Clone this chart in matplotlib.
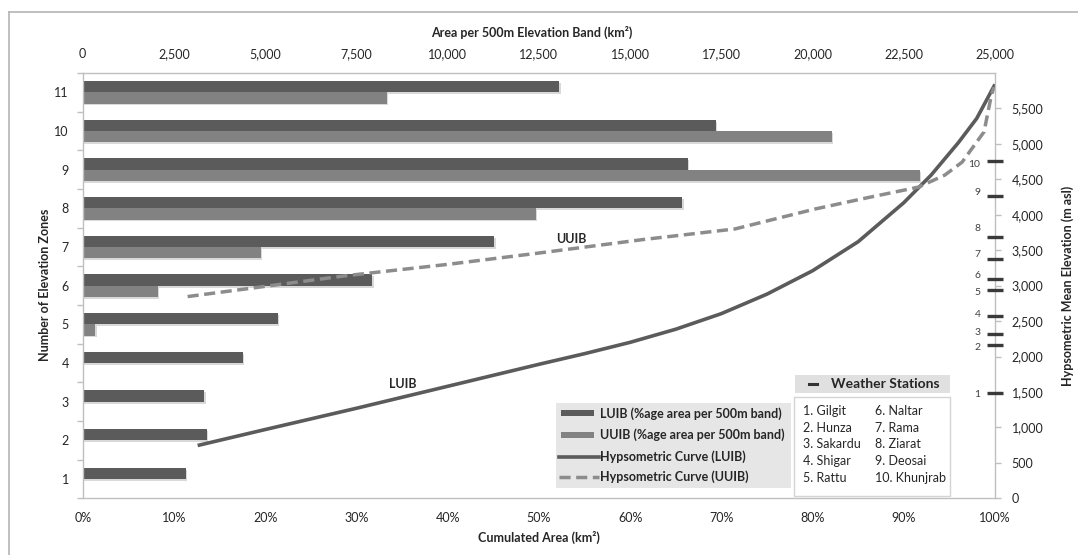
import matplotlib
matplotlib.use("Agg")
import matplotlib.pyplot as plt
from matplotlib.patches import Rectangle
from matplotlib.lines import Line2D
from matplotlib.ticker import FuncFormatter, FixedLocator
import matplotlib.patheffects as pe
import numpy as np

plt.rcParams['font.family'] = ['Lato', 'DejaVu Sans']

# ---------------- data ----------------
zones = [1, 2, 3, 4, 5, 6, 7, 8, 9, 10, 11]
luib_area = [2820, 3395, 3337, 4403, 5340, 7941, 11282, 16434, 16577, 17350, 13065]
uuib_area = [0, 0, 0, 0, 348, 2073, 4874, 12431, 22940, 20536, 8343]

luib_pct = [12.6, 20.0, 30.0, 40.0, 50.0, 55.0, 60.0, 65.0, 70.0, 75.0, 80.0, 85.0, 90.0, 93.0, 96.0, 98.0, 100.0]
luib_elev = [745, 970, 1270, 1580, 1890, 2040, 2200, 2385, 2605, 2880, 3210, 3620, 4170, 4560, 5020, 5360, 5840]

uuib_pct = [11.5, 20.0, 28.7, 40.0, 50.0, 61.4, 71.5, 80.3, 86.0, 91.6, 94.5, 96.4, 98.8, 99.6, 99.9]
uuib_elev = [2846, 2990, 3138, 3300, 3460, 3650, 3800, 4082, 4240, 4390, 4560, 4743, 5170, 5686, 5800]

station_names = ["Gilgit", "Hunza", "Sakardu", "Shigar", "Rattu",
                 "Naltar", "Rama", "Ziarat", "Deosai", "Khunjrab"]
station_elev = [1487, 2160, 2320, 2575, 2935, 3100, 3374, 3690, 4270, 4752]

top_ticks = [0, 2500, 5000, 7500, 10000, 12500, 15000, 17500, 20000, 22500, 25000]
bottom_ticks = [0, 10, 20, 30, 40, 50, 60, 70, 80, 90, 100]
right_ticks = [0, 500, 1000, 1500, 2000, 2500, 3000, 3500, 4000, 4500, 5000, 5500]

legend_labels = ["LUIB (%age area per 500m band)", "UUIB (%age area per 500m band)",
                 "Hypsometric Curve (LUIB)", "Hypsometric Curve (UUIB)"]

# ---------------- style ----------------
W, H = 1078, 555
C_LUIB = '#5b5b5b'
C_UUIB = '#828282'
C_LINE_U = '#8c8c8c'
C_AXIS = '#bfbfbf'
C_TEXT = '#262626'

fig = plt.figure(figsize=(W / 100, H / 100), dpi=100)
fig.patch.set_facecolor('white')


def fx(x):
    return x / W


def fy(y):
    return 1 - y / H


L, R, T, B = 82.7, 995.0, 73.0, 498.3
rect = [fx(L), fy(B), (R - L) / W, (B - T) / H]

# ---------- bars axis (top x, left y) ----------
ax = fig.add_axes(rect)
zarr = np.array(zones, dtype=float)
bh = 0.29
shadow = [pe.SimplePatchShadow(offset=(0.8, -1.4), shadow_rgbFace='#000000', alpha=0.15), pe.Normal()]
b1 = ax.barh(zarr + bh / 2, luib_area, height=bh, color=C_LUIB, linewidth=0)
b2 = ax.barh(zarr - bh / 2, uuib_area, height=bh, color=C_UUIB, linewidth=0)
for b in list(b1) + list(b2):
    if b.get_width() > 0:
        b.set_path_effects(shadow)
ax.set_xlim(0, 25000)
ax.set_ylim(0.5, 11.5)
ax.xaxis.tick_top()
ax.xaxis.set_major_locator(FixedLocator(top_ticks))
ax.xaxis.set_major_formatter(FuncFormatter(lambda v, p: f"{int(v):,}"))
ax.tick_params(axis='x', length=0, pad=9, labelsize=9, labelcolor=C_TEXT)
ax.yaxis.set_major_locator(FixedLocator(zones))
ax.yaxis.set_minor_locator(FixedLocator([z - 0.5 for z in zones] + [11.5]))
ax.tick_params(axis='y', which='major', length=0, pad=10, labelsize=9, labelcolor=C_TEXT)
ax.tick_params(axis='y', which='minor', length=4, color=C_AXIS, width=1)
for s in ['right', 'bottom']:
    ax.spines[s].set_visible(False)
for s in ['left', 'top']:
    ax.spines[s].set_color(C_AXIS)
    ax.spines[s].set_linewidth(1)
ax.set_facecolor('white')

# ---------- curves axis (bottom x %, right y elevation) ----------
ax2 = fig.add_axes(rect)
ax2.patch.set_visible(False)
ax2.set_xlim(0, 100)
ax2.set_ylim(0, 6000)
ax2.plot(luib_pct, luib_elev, color=C_LUIB, lw=2.6, solid_capstyle='butt', solid_joinstyle='round')
ax2.plot(uuib_pct, uuib_elev, color=C_LINE_U, lw=2.5, dashes=(3.2, 1.6))
ax2.xaxis.set_major_locator(FixedLocator(bottom_ticks))
ax2.xaxis.set_major_formatter(FuncFormatter(lambda v, p: f"{int(v)}%"))
ax2.tick_params(axis='x', length=0, pad=10, labelsize=9, labelcolor=C_TEXT)
ax2.yaxis.tick_right()
ax2.yaxis.set_major_locator(FixedLocator(right_ticks))
ax2.yaxis.set_major_formatter(FuncFormatter(lambda v, p: f"{int(v):,}"))
ax2.tick_params(axis='y', length=4, width=1, color=C_AXIS, pad=8, labelsize=9, labelcolor=C_TEXT)
for s in ['left', 'top']:
    ax2.spines[s].set_visible(False)
for s in ['right', 'bottom']:
    ax2.spines[s].set_color(C_AXIS)
    ax2.spines[s].set_linewidth(1)

# station markers on the right axis
ax2.plot([100] * len(station_elev), station_elev, linestyle='none', marker='_',
         markersize=11, markeredgewidth=2.4, color='#3a3a3a', clip_on=False, zorder=5)
label_dy_px = [1.7, 2.0, -1.7, -1.4, 2.3, -3.3, -5.0, -8.4, -3.4, 3.0]
for i, e in enumerate(station_elev):
    ax2.annotate(str(i + 1), xy=(100, e), xytext=(-10.5, -label_dy_px[i] * 0.72),
                 textcoords='offset points', ha='right', va='center',
                 fontsize=7.5, color='#404040', annotation_clip=False)

# curve labels
fig.text(fx(571), fy(239), "UUIB", ha='center', va='center', fontsize=9,
         fontweight='bold', color=C_TEXT)
fig.text(fx(403), fy(384), "LUIB", ha='center', va='center', fontsize=9,
         fontweight='bold', color=C_TEXT)

# axis titles
fig.text(fx(532), fy(32), "Area per 500m Elevation Band (km\u00b2)", ha='center', va='center',
         fontsize=9, fontweight='bold', color=C_TEXT)
fig.text(fx(538.5), fy(537), "Cumulated Area (km\u00b2)", ha='center', va='center',
         fontsize=9, fontweight='bold', color=C_TEXT)
fig.text(fx(45), fy(285), "Number of Elevation Zones", ha='center', va='center',
         rotation=90, fontsize=9, fontweight='bold', color=C_TEXT)
fig.text(fx(1068), fy(286), "Hypsometric Mean Elevation (m asl)", ha='center', va='center',
         rotation=90, fontsize=9, fontweight='bold', color=C_TEXT)

# ---------- legend (manual) ----------
def frect(x0, y0, x1, y1, **kw):
    r = Rectangle((fx(x0), fy(y1)), (x1 - x0) / W, (y1 - y0) / H, transform=fig.transFigure, **kw)
    fig.add_artist(r)
    return r


frect(555.5, 402.7, 791.3, 488.3, facecolor='#e6e6e6', edgecolor='none', zorder=6)
leg_y = [413.3, 435.0, 456.7, 476.7]
frect(560.7, leg_y[0] - 3, 594.4, leg_y[0] + 3, facecolor=C_LUIB, edgecolor='none', zorder=7)
frect(560.7, leg_y[1] - 3, 594.4, leg_y[1] + 3, facecolor=C_UUIB, edgecolor='none', zorder=7)
fig.add_artist(Line2D([fx(559), fx(598.5)], [fy(leg_y[2])] * 2, transform=fig.transFigure,
                      color=C_LUIB, lw=2.6, zorder=7))
fig.add_artist(Line2D([fx(559), fx(598.5)], [fy(leg_y[3])] * 2, transform=fig.transFigure,
                      color=C_LINE_U, lw=2.5, dashes=(3.2, 1.6), zorder=7))
for yy, lab in zip(leg_y, legend_labels):
    fig.text(fx(599.5), fy(yy), lab, ha='left', va='center', fontsize=9,
             fontweight='bold', color=C_TEXT, zorder=8)

# ---------- weather stations box ----------
frect(794.7, 375, 950.3, 393.3, facecolor='#e0e0e0', edgecolor='none', zorder=6)
fig.add_artist(Line2D([fx(808.5), fx(817)], [fy(384)] * 2, transform=fig.transFigure,
                      color='#333333', lw=2.2, zorder=7))
fig.text(fx(831), fy(384), "Weather Stations", ha='left', va='center', fontsize=10,
         fontweight='bold', color=C_TEXT, zorder=8)
frect(794, 396.7, 949.6, 496, facecolor='white', edgecolor='#d4d4d4', lw=1, zorder=6)
rows_y = [411, 427.7, 444.3, 461, 477.7]
for i, name in enumerate(station_names):
    col_x = 803.3 if i < 5 else 874.6
    fig.text(fx(col_x), fy(rows_y[i % 5]), f"{i + 1}. {name}", ha='left', va='center',
             fontsize=9, color=C_TEXT, zorder=8)

# ---------- outer chart border ----------
fig.add_artist(Line2D([fx(8.5), fx(8.5)], [fy(12), fy(560)], transform=fig.transFigure,
                      color='#b5b5b5', lw=1.2))
fig.add_artist(Line2D([fx(8.5), fx(1085)], [fy(12), fy(12)], transform=fig.transFigure,
                      color='#b5b5b5', lw=1.2))

fig.savefig("out.png", dpi=100, facecolor='white')
